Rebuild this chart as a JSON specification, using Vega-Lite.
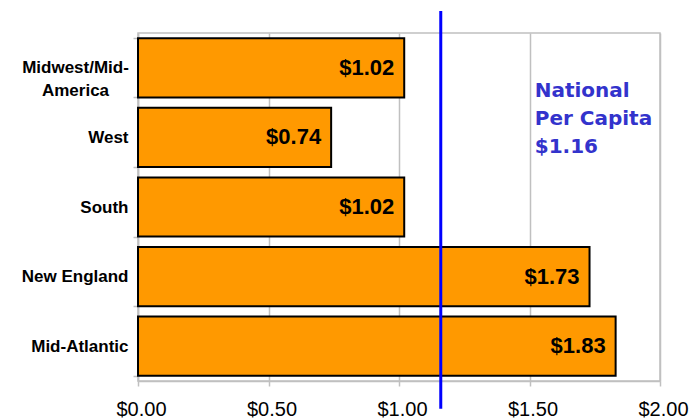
{
  "$schema": "https://vega.github.io/schema/vega-lite/v6.json",
  "autosize": "none",
  "width": 522,
  "height": 348,
  "padding": {"left": 138, "top": 33, "right": 40, "bottom": 38},
  "background": "white",
  "config": {
    "view": {"stroke": "#C0C0C0", "strokeWidth": 1.5},
    "font": "Liberation Sans"
  },
  "datasets": {
    "regions": [
      {"region": "Midwest/Mid-America", "value": 1.02},
      {"region": "West", "value": 0.74},
      {"region": "South", "value": 1.02},
      {"region": "New England", "value": 1.73},
      {"region": "Mid-Atlantic", "value": 1.83}
    ],
    "national": [
      {"value": 1.16, "top": 1.063, "bottom": -0.08, "labelX": 1.52, "labelY": 0.816, "label": "National\nPer Capita\n$1.16"}
    ]
  },
  "layer": [
    {
      "data": {"name": "regions"},
      "mark": {"type": "bar", "color": "#FF9900", "stroke": "#000000", "strokeWidth": 2},
      "encoding": {
        "y": {
          "field": "region", "type": "nominal",
          "sort": ["Midwest/Mid-America", "West", "South", "New England", "Mid-Atlantic"],
          "scale": {"paddingInner": 0.15, "paddingOuter": 0.075},
          "axis": {
            "title": null,
            "labelFont": "Liberation Sans", "labelFontWeight": "bold", "labelFontSize": 17, "labelColor": "#000000",
            "labelLineHeight": 23,
            "labelExpr": "datum.value == 'Midwest/Mid-America' ? ['Midwest/Mid-', 'America'] : datum.value",
            "labelAlign": {"condition": {"test": "datum.value == 'Midwest/Mid-America'", "value": "center"}, "value": "right"},
            "labelPadding": {"condition": {"test": "datum.value == 'Midwest/Mid-America'", "value": 58}, "value": 5},
            "tickBand": "extent", "tickSize": 5, "tickColor": "#C0C0C0", "tickWidth": 1.5,
            "domainColor": "#C0C0C0", "domainWidth": 1.5
          }
        },
        "x": {
          "field": "value", "type": "quantitative",
          "scale": {"domain": [0, 2]},
          "axis": {
            "title": null, "values": [0, 0.5, 1, 1.5, 2], "format": "$.2f",
            "labelFont": "Liberation Sans", "labelFontSize": 20, "labelColor": "#000000",
            "labelFlush": false, "labelOffset": 3, "labelBound": false,
            "labelPadding": 13, "tickSize": 5, "tickColor": "#C0C0C0", "tickWidth": 1.5,
            "domainColor": "#C0C0C0", "domainWidth": 1.5,
            "grid": true, "gridColor": "#C0C0C0", "gridWidth": 1.5
          }
        }
      }
    },
    {
      "data": {"name": "regions"},
      "mark": {"type": "text", "align": "right", "baseline": "middle", "dx": -10, "font": "Liberation Sans", "fontWeight": "bold", "fontSize": 22, "color": "#000000"},
      "encoding": {
        "y": {"field": "region", "type": "nominal", "sort": ["Midwest/Mid-America", "West", "South", "New England", "Mid-Atlantic"], "scale": {"paddingInner": 0.15, "paddingOuter": 0.075}, "axis": null},
        "x": {"field": "value", "type": "quantitative"},
        "text": {"field": "value", "type": "quantitative", "format": "$.2f"}
      }
    },
    {
      "data": {"name": "national"},
      "mark": {"type": "rule", "color": "#0000FF", "strokeWidth": 3, "clip": false},
      "encoding": {
        "x": {"field": "value", "type": "quantitative"},
        "y": {"field": "top", "type": "quantitative", "scale": {"domain": [0, 1]}, "axis": null},
        "y2": {"field": "bottom"}
      }
    },
    {
      "data": {"name": "national"},
      "mark": {"type": "text", "align": "left", "baseline": "alphabetic", "lineBreak": "\n", "lineHeight": 28, "font": "DejaVu Sans", "fontWeight": "bold", "fontSize": 20, "color": "#3333CC"},
      "encoding": {
        "x": {"field": "labelX", "type": "quantitative"},
        "y": {"field": "labelY", "type": "quantitative", "scale": {"domain": [0, 1]}, "axis": null},
        "text": {"field": "label"}
      }
    }
  ],
  "resolve": {"scale": {"y": "independent"}}
}
